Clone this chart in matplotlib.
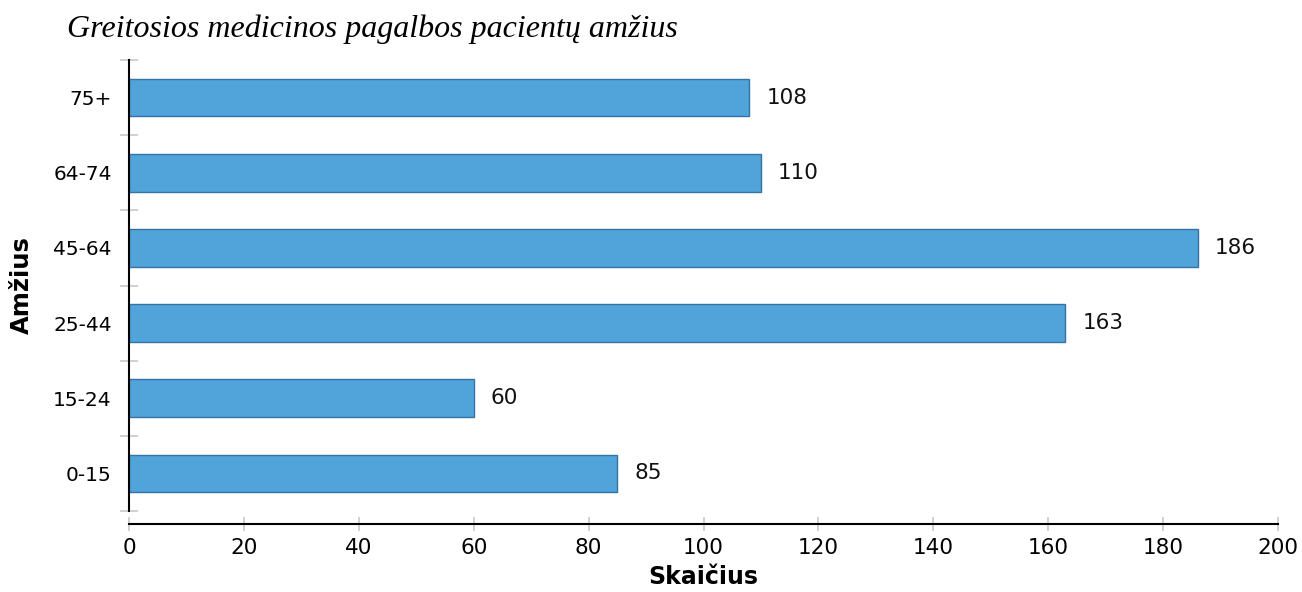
import matplotlib.pyplot as plt
import numpy as np

# Age groups and patient counts
groups = ['0-15', '15-24', '25-44', '45-64', '64-74', '75+']
counts = [85, 60, 163, 186, 110, 108]
x_ticks = [0, 20, 40, 60, 80, 100, 120, 140, 160, 180, 200]

W, H = 1302, 592
fig = plt.figure(figsize=(W / 100, H / 100), dpi=100)
ax = fig.add_axes([129 / W, (H - 511) / H, (1278 - 129) / W, (511 - 60) / H])

pos = np.arange(len(groups))
ax.barh(pos, counts, height=0.5, color='#50A4DA', edgecolor='#3673A3', linewidth=1)

for p, v in zip(pos, counts):
    ax.text(v + 3, p, str(v), va='center', ha='left', fontsize=15.5, color='#111111')

ax.set_xlim(0, 200)
ax.set_ylim(-0.5, len(groups) - 0.5)

# x axis: line set a bit below the plot, ticks crossing it
ax.spines['top'].set_visible(False)
ax.spines['right'].set_visible(False)
ax.spines['bottom'].set_position(('outward', 9.5))
ax.spines['bottom'].set_linewidth(1.5)
ax.spines['left'].set_linewidth(1.5)
ax.set_xticks(x_ticks)
ax.tick_params(axis='x', direction='inout', length=10, width=1.2, color='#c8c8c8',
               labelsize=15.5, pad=5)

# y axis: gray ticks at band boundaries, labels at band centres
ax.set_yticks(np.arange(-0.5, len(groups), 1.0))
ax.set_yticklabels([])
ax.tick_params(axis='y', which='major', direction='inout', length=13, width=1.2, color='#c8c8c8')
ax.set_yticks(pos, minor=True)
ax.set_yticklabels(groups, minor=True)
ax.tick_params(axis='y', which='minor', length=0, labelsize=14.5, pad=12.5)

ax.set_xlabel('Skaičius', fontsize=17, fontweight='bold', labelpad=5)
ax.set_ylabel('Amžius', fontsize=17.5, fontweight='bold')
ax.yaxis.set_label_coords(-0.0825, 0.5)

fig.text(67 / W, 1 - 29 / H, 'Greitosios medicinos pagalbos pacientų amžius',
         family='Liberation Serif', style='italic', fontsize=23, va='center', ha='left')

fig.savefig('out.png', dpi=100)
